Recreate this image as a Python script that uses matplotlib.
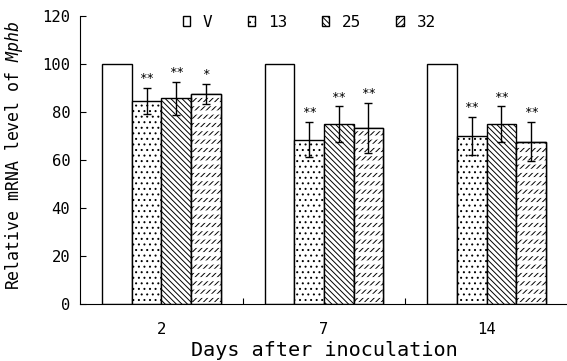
import matplotlib
matplotlib.use("Agg")
import matplotlib as mpl
import matplotlib.pyplot as plt
import numpy as np

# ---- data ----
days = ["2", "7", "14"]
series = ["V", "13", "25", "32"]
v_vals = [100, 100, 100]
s13_vals = [84.5, 68.5, 70.0]
s25_vals = [85.8, 75.0, 75.0]
s32_vals = [87.5, 73.3, 67.7]
s13_err = [5.5, 7.2, 7.9]
s25_err = [6.9, 7.3, 7.3]
s32_err = [4.1, 10.4, 8.1]
s13_sig = ["**", "**", "**"]
s25_sig = ["**", "**", "**"]
s32_sig = ["*", "**", "**"]
yticks = [0, 20, 40, 60, 80, 100, 120]

FONT = "DejaVu Sans Mono"
plt.rcParams["font.family"] = [FONT]
plt.rcParams["mathtext.fontset"] = "custom"
plt.rcParams["mathtext.rm"] = FONT
plt.rcParams["mathtext.it"] = FONT + ":italic"
plt.rcParams["hatch.linewidth"] = 0.7

fig = plt.figure(figsize=(5.67, 3.61), dpi=100)
ax = fig.add_axes([80 / 567, 57 / 361, 488 / 567, 288 / 361])

x = np.arange(len(days))
w = 0.182
offs = np.array([-1.5, -0.5, 0.5, 1.5]) * w

vals = [v_vals, s13_vals, s25_vals, s32_vals]
errs = [None, s13_err, s25_err, s32_err]
sigs = [None, s13_sig, s25_sig, s32_sig]
hatches = [None, "...", "\\\\\\\\\\\\", "//////"]

handles = []
for i, name in enumerate(series):
    b = ax.bar(x + offs[i], vals[i], w, color="white", edgecolor="black",
               linewidth=1.0, hatch=hatches[i], label=name, zorder=2)
    handles.append(b)
    if errs[i] is not None:
        ax.errorbar(x + offs[i], vals[i], yerr=errs[i], fmt="none",
                    ecolor="black", elinewidth=1.0, capsize=3.2,
                    capthick=1.0, zorder=3)
        for xi, v, e, s in zip(x + offs[i], vals[i], errs[i], sigs[i]):
            ax.text(xi, v + e + 1.2, s, ha="center", va="bottom",
                    fontsize=9, color="black", zorder=4)

# white horizontal stripes over the "32" bars to break the slashes into rows
with mpl.rc_context({"hatch.linewidth": 3.0}):
    ov = ax.bar(x + offs[3], s32_vals, w, color="none", edgecolor="white",
                linewidth=0, hatch="--", zorder=2.5)
    for p in ov:
        orig = p.draw
        def _draw(renderer, _orig=orig):
            with mpl.rc_context({"hatch.linewidth": 3.0}):
                _orig(renderer)
        p.draw = _draw
        try:
            p.set_hatch_linewidth(3.0)
        except Exception:
            pass
# redraw outline of 32 bars above the stripes
ax.bar(x + offs[3], s32_vals, w, color="none", edgecolor="black",
       linewidth=1.0, zorder=2.6)

ax.set_xlim(-0.5, 2.5)
ax.set_ylim(0, 120)
ax.set_yticks(yticks)
ax.set_yticklabels([str(t) for t in yticks])
ax.tick_params(axis="y", direction="in", length=4.3, width=0.8,
               labelsize=11.2, pad=7)

ax.set_xticks([0.5, 1.5])
ax.set_xticklabels([])
ax.set_xticks(x, minor=True)
ax.set_xticklabels(days, minor=True)
ax.tick_params(axis="x", which="major", direction="in", length=4.3, width=0.8)
ax.tick_params(axis="x", which="minor", length=0, labelsize=11.2, pad=13)

for s in ["top", "right"]:
    ax.spines[s].set_visible(False)
for s in ["left", "bottom"]:
    ax.spines[s].set_linewidth(0.8)

ax.set_xlabel("Days after inoculation", fontsize=14.5, labelpad=3)
ax.set_ylabel(r"Relative mRNA level of $\mathit{Mphb}$", fontsize=11.9)
ax.yaxis.set_label_coords(-0.113, 0.515)

leg = ax.legend(handles=handles, labels=series, loc="center",
                bbox_to_anchor=(0.47, 0.979), ncol=4, frameon=False,
                fontsize=11.5, handlelength=0.45, handleheight=0.55,
                handletextpad=0.8, columnspacing=2.2, borderpad=0,
                borderaxespad=0)

fig.savefig("out.png", dpi=100)
